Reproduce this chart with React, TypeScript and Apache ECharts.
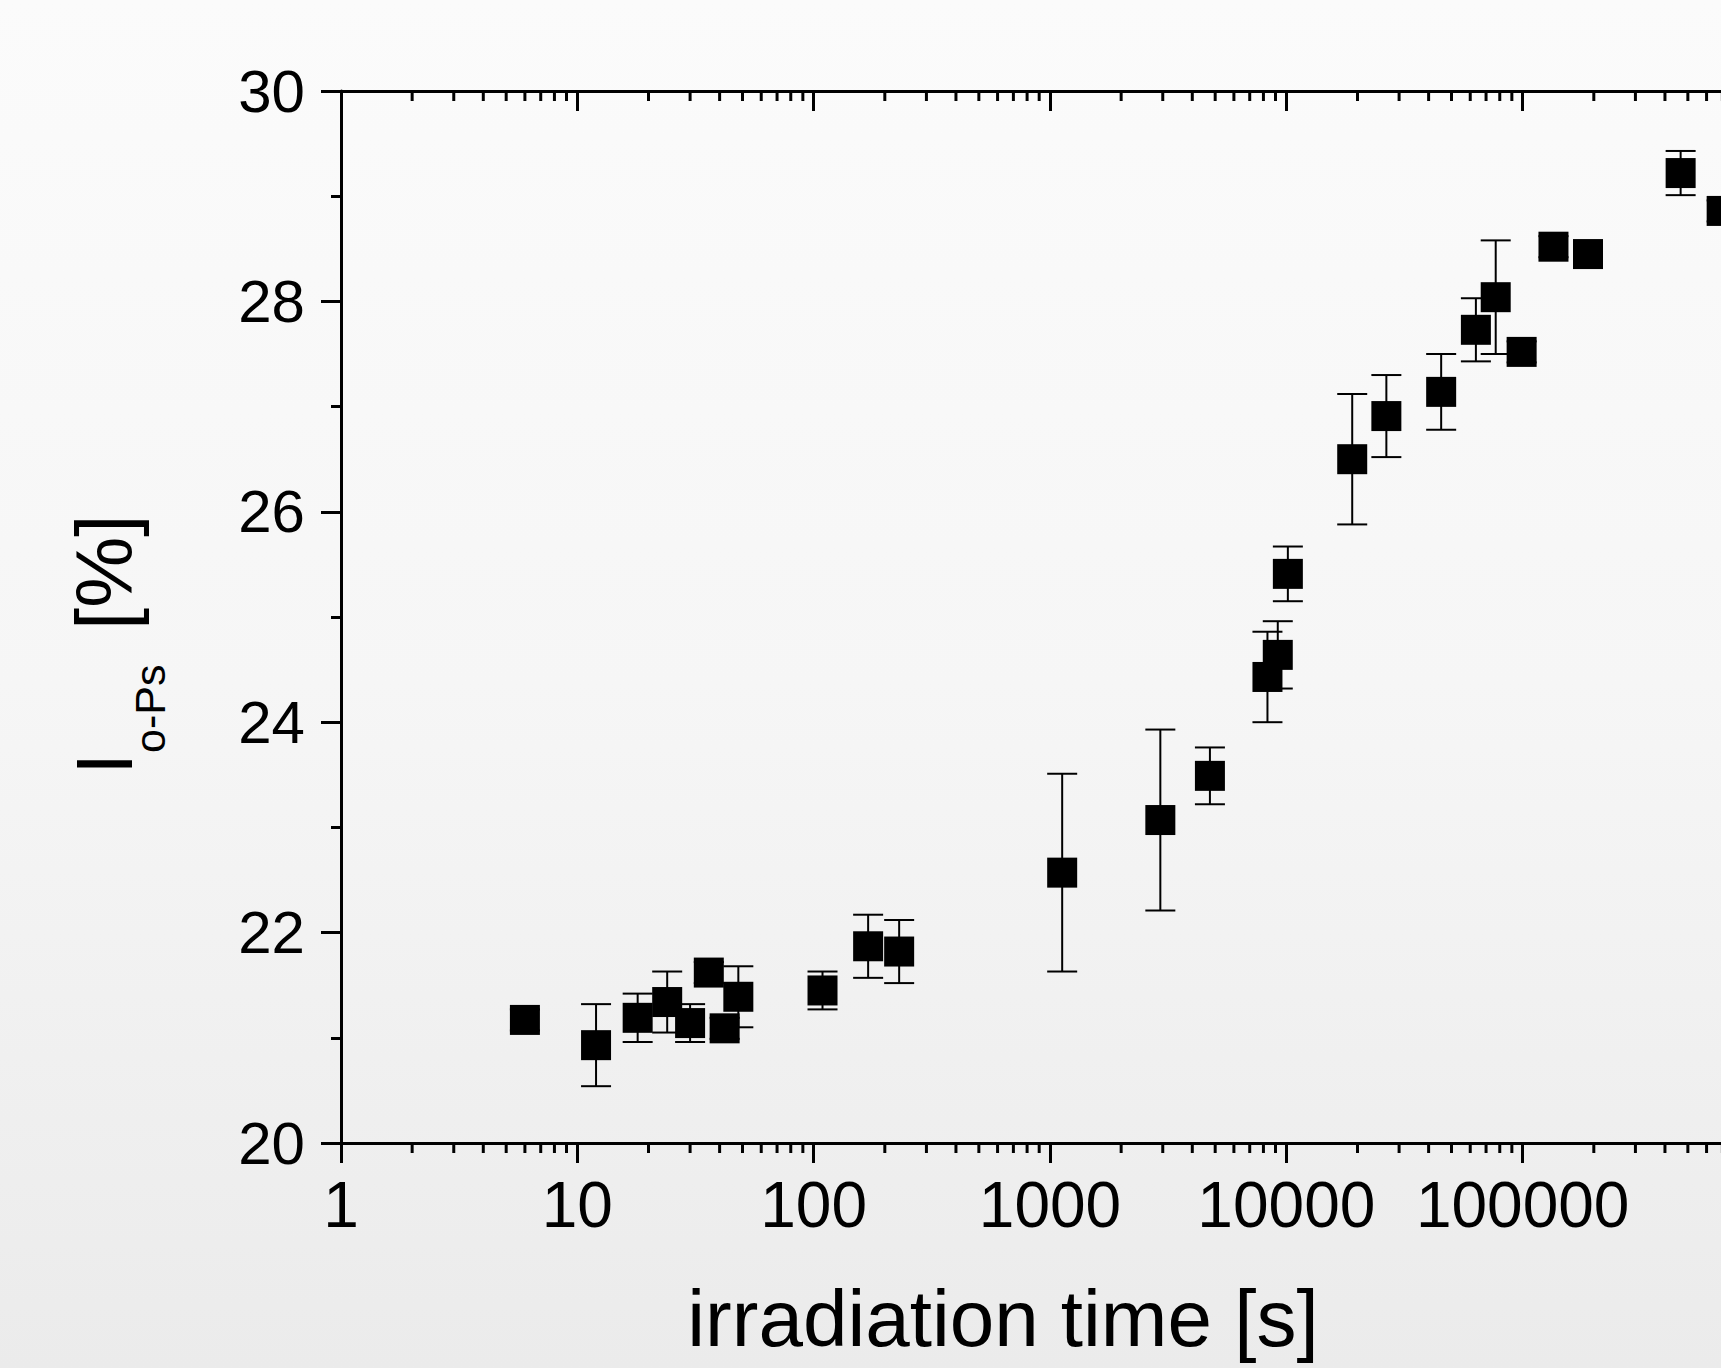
import React, { useEffect, useRef } from "react";
import * as echarts from "echarts";

// irradiation time [s]
const irradiationTime = [6, 12, 18, 24, 30, 36, 42, 48, 109, 170, 230, 1126, 2930, 4750, 8320, 9200, 10150, 19000, 26500, 45200, 63400, 76900, 99000, 135000, 189000, 466000, 695000];
// I(o-Ps) [%]
const intensity = [21.17, 20.93, 21.19, 21.34, 21.14, 21.62, 21.09, 21.39, 21.45, 21.87, 21.82, 22.57, 23.07, 23.49, 24.43, 24.64, 25.41, 26.5, 26.91, 27.14, 27.73, 28.04, 27.52, 28.52, 28.45, 29.22, 28.86];
// error (±)
const intensityErr = [0.1, 0.39, 0.23, 0.29, 0.18, 0.1, 0.1, 0.29, 0.18, 0.3, 0.3, 0.94, 0.86, 0.27, 0.43, 0.32, 0.26, 0.62, 0.39, 0.36, 0.3, 0.54, 0.1, 0.1, 0.1, 0.21, 0.1];

const xDecades = [1, 10, 100, 1000, 10000, 100000];
const minorMultipliers = [2, 3, 4, 5, 6, 7, 8, 9];
const yTicks = { min: 20, max: 30, interval: 2 };

const FONT = "'Liberation Sans', Arial, Helvetica, sans-serif";

export default function App() {
  const ref = useRef<HTMLDivElement>(null);
  useEffect(() => {
    if (!ref.current) return;
    document.documentElement.style.overflow = "hidden";
    document.body.style.overflow = "hidden";
    const chart = echarts.init(ref.current, null, { renderer: "svg" });

    const points = irradiationTime.map((t, i) => [t, intensity[i]]);
    const errRows = irradiationTime.map((t, i) => [t, intensity[i], intensityErr[i]]);
    const minorTicks: number[][] = [];
    xDecades.forEach((d) => minorMultipliers.forEach((m) => minorTicks.push([d * m, yTicks.min])));

    const axisLineStyle = { color: "#000", width: 3 };

    chart.setOption({
      animation: false,
      backgroundColor: "transparent",
      grid: { left: 341, top: 91, bottom: 225, right: 0, containLabel: false },
      xAxis: [
        {
          type: "log",
          logBase: 10,
          min: 1,
          max: 1000000,
          splitNumber: 6,
          position: "bottom",
          axisLine: { show: true, lineStyle: axisLineStyle },
          axisTick: { show: true, inside: false, length: 20, lineStyle: { color: "#000", width: 3 } },
          axisLabel: {
            show: true,
            margin: 30,
            fontSize: 64,
            fontFamily: FONT,
            color: "#000",
            formatter: (v: number) => (v >= 999999 ? "" : String(Math.round(v))),
          },
          splitLine: { show: false },
        },
        {
          type: "log",
          logBase: 10,
          min: 1,
          max: 1000000,
          splitNumber: 6,
          position: "top",
          axisLine: { show: true, lineStyle: axisLineStyle },
          axisTick: { show: true, inside: true, length: 20, lineStyle: { color: "#000", width: 3 } },
          axisLabel: { show: false },
          splitLine: { show: false },
        },
      ],
      yAxis: [
        {
          type: "value",
          min: yTicks.min,
          max: yTicks.max,
          interval: yTicks.interval,
          position: "left",
          axisLine: { show: true, lineStyle: axisLineStyle },
          axisTick: { show: true, inside: false, length: 20, lineStyle: { color: "#000", width: 3 } },
          minorTick: { show: true, splitNumber: 2, length: 10, lineStyle: { color: "#000", width: 3 } },
          axisLabel: { show: true, margin: 36, fontSize: 60, fontFamily: FONT, color: "#000" },
          splitLine: { show: false },
          minorSplitLine: { show: false },
        },
      ],
      series: [
        {
          type: "custom",
          name: "minorTicks",
          xAxisIndex: 0,
          yAxisIndex: 0,
          clip: false,
          silent: true,
          data: minorTicks,
          encode: { x: 0, y: 1 },
          renderItem: (params: any, api: any) => {
            const v = api.value(0);
            const b = api.coord([v, yTicks.min]);
            const t = api.coord([v, yTicks.max]);
            const st = { stroke: "#000", lineWidth: 3 };
            return {
              type: "group",
              children: [
                { type: "line", shape: { x1: b[0], y1: b[1], x2: b[0], y2: b[1] + 10 }, style: st },
                { type: "line", shape: { x1: t[0], y1: t[1], x2: t[0], y2: t[1] + 10 }, style: st },
              ],
            };
          },
          z: 1,
        },
        {
          type: "custom",
          name: "errorBars",
          xAxisIndex: 0,
          yAxisIndex: 0,
          clip: false,
          silent: true,
          data: errRows,
          encode: { x: 0, y: 1 },
          renderItem: (params: any, api: any) => {
            const x = api.value(0);
            const y = api.value(1);
            const e = api.value(2);
            const top = api.coord([x, y + e]);
            const bot = api.coord([x, y - e]);
            const hw = 15;
            const st = { stroke: "#000", lineWidth: 2 };
            return {
              type: "group",
              children: [
                { type: "line", shape: { x1: top[0], y1: top[1], x2: bot[0], y2: bot[1] }, style: st },
                { type: "line", shape: { x1: top[0] - hw, y1: top[1], x2: top[0] + hw, y2: top[1] }, style: st },
                { type: "line", shape: { x1: bot[0] - hw, y1: bot[1], x2: bot[0] + hw, y2: bot[1] }, style: st },
              ],
            };
          },
          z: 2,
        },
        {
          type: "scatter",
          name: "I o-Ps",
          xAxisIndex: 0,
          yAxisIndex: 0,
          symbol: "rect",
          symbolSize: 30,
          itemStyle: { color: "#000", opacity: 1 },
          data: points,
          z: 3,
        },
      ],
      graphic: [
        {
          type: "text",
          x: 104,
          y: 775,
          rotation: Math.PI / 2,
          style: { text: "I", fontSize: 80, fontFamily: FONT, fill: "#000", textAlign: "left", textVerticalAlign: "middle" },
        },
        {
          type: "text",
          x: 150,
          y: 753,
          rotation: Math.PI / 2,
          style: { text: "o-Ps", fontSize: 43, fontFamily: FONT, fill: "#000", textAlign: "left", textVerticalAlign: "middle" },
        },
        {
          type: "text",
          x: 104,
          y: 630,
          rotation: Math.PI / 2,
          style: { text: "[%]", fontSize: 80, fontFamily: FONT, fill: "#000", textAlign: "left", textVerticalAlign: "middle" },
        },
        {
          type: "text",
          x: 1003,
          y: 1318,
          style: { text: "irradiation time [s]", fontSize: 80, fontFamily: FONT, fill: "#000", textAlign: "center", textVerticalAlign: "middle" },
        },
      ],
    });
    return () => chart.dispose();
  }, []);

  return (
    <div
      style={{
        position: "fixed",
        left: 0,
        top: 0,
        width: 1721,
        height: 1368,
        overflow: "hidden",
        background: "linear-gradient(180deg, #fbfbfb 0%, #f6f6f6 50%, #ebebeb 100%)",
      }}
    >
      <div ref={ref} style={{ position: "absolute", left: 0, top: 0, width: 1762, height: 1368 }} />
    </div>
  );
}
